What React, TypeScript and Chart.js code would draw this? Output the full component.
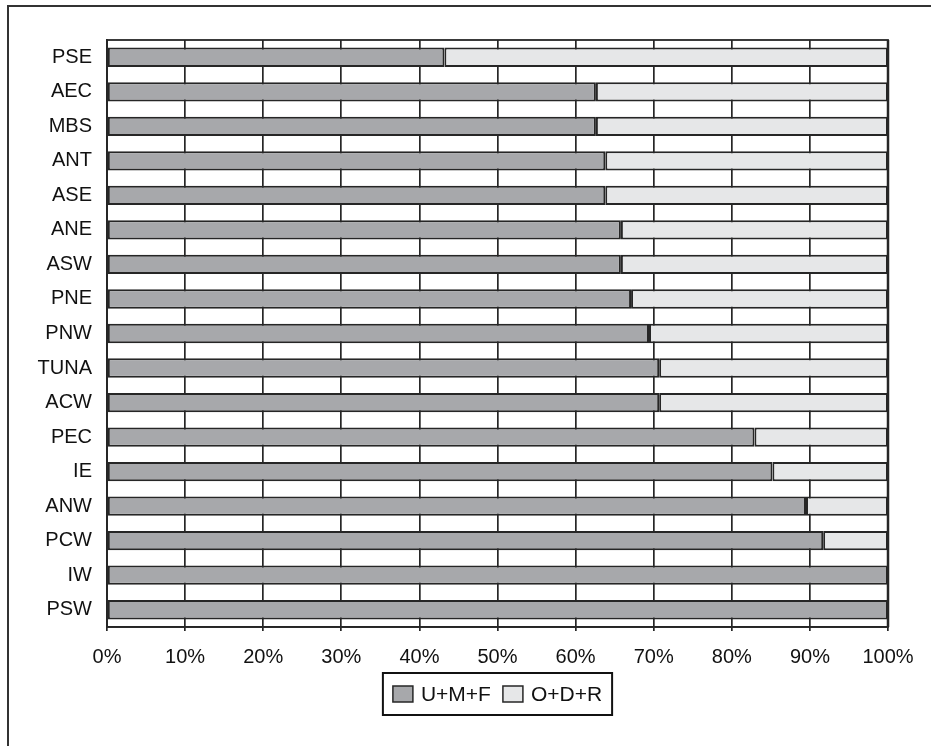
import React, { useEffect, useRef } from "react";
import { Chart, registerables } from "chart.js";

Chart.register(...registerables);

const categories = ["PSE", "AEC", "MBS", "ANT", "ASE", "ANE", "ASW", "PNE", "PNW", "TUNA", "ACW", "PEC", "IE", "ANW", "PCW", "IW", "PSW"];
const umfValues = [43.2, 62.6, 62.6, 63.8, 63.8, 65.8, 65.8, 67.1, 69.4, 70.7, 70.7, 82.9, 85.2, 89.5, 91.7, 100, 100];
const odrValues = [56.8, 37.4, 37.4, 36.2, 36.2, 34.2, 34.2, 32.9, 30.6, 29.3, 29.3, 17.1, 14.8, 10.5, 8.3, 0, 0];
const seriesLabels = ["U+M+F", "O+D+R"];
const seriesColors = ["#a7a8ab", "#e6e7e8"];
const xTicks = [0, 10, 20, 30, 40, 50, 60, 70, 80, 90, 100];

const FONT = "'Liberation Sans', Arial, sans-serif";
const LINE = "#262626";

const framePlugin = {
  id: "frameAndLegend",
  beforeDraw(chart: any) {
    const ctx = chart.ctx;
    ctx.save();
    ctx.fillStyle = "#ffffff";
    ctx.fillRect(0, 0, chart.width, chart.height);
    ctx.strokeStyle = "#333333";
    ctx.lineWidth = 2;
    ctx.beginPath();
    ctx.moveTo(chart.width, 6);
    ctx.lineTo(8, 6);
    ctx.lineTo(8, chart.height);
    ctx.stroke();
    ctx.restore();
  },
  afterDraw(chart: any) {
    const ctx = chart.ctx;
    const area = chart.chartArea;
    ctx.save();
    // plot border
    ctx.strokeStyle = LINE;
    ctx.lineWidth = 1.8;
    ctx.strokeRect(area.left, area.top, area.right - area.left, area.bottom - area.top);
    ctx.lineWidth = 2.5;
    ctx.beginPath();
    ctx.moveTo(area.right, area.top);
    ctx.lineTo(area.right, area.bottom);
    ctx.stroke();

    // legend
    ctx.font = `21px ${FONT}`;
    const ds = chart.data.datasets;
    const sw = 20, sh = 16, padX = 10, gapText = 8, gapItem = 12;
    let total = padX * 2;
    const widths = ds.map((d: any) => ctx.measureText(d.label).width);
    widths.forEach((w: number, i: number) => {
      total += sw + gapText + w + (i < ds.length - 1 ? gapItem : 0);
    });
    const boxH = 42;
    const cx = (area.left + area.right) / 2;
    const left = cx - total / 2;
    const top = area.bottom + 46;
    ctx.fillStyle = "#ffffff";
    ctx.fillRect(left, top, total, boxH);
    ctx.strokeStyle = "#111111";
    ctx.lineWidth = 2;
    ctx.strokeRect(left, top, total, boxH);
    let x = left + padX;
    const cy = top + boxH / 2;
    ds.forEach((d: any, i: number) => {
      ctx.fillStyle = d.backgroundColor;
      ctx.fillRect(x, cy - sh / 2, sw, sh);
      ctx.strokeStyle = LINE;
      ctx.lineWidth = 1.5;
      ctx.strokeRect(x, cy - sh / 2, sw, sh);
      x += sw + gapText;
      ctx.fillStyle = "#111111";
      ctx.textBaseline = "middle";
      ctx.textAlign = "left";
      ctx.fillText(d.label, x, cy + 1);
      x += widths[i] + gapItem;
    });
    ctx.restore();
  },
};

export default function App() {
  const ref = useRef<HTMLCanvasElement | null>(null);
  useEffect(() => {
    if (!ref.current) return;
    const chart = new Chart(ref.current, {
      type: "bar",
      data: {
        labels: categories,
        datasets: [
          {
            label: seriesLabels[0],
            data: umfValues,
            backgroundColor: seriesColors[0],
            borderColor: LINE,
            borderWidth: 2,
            borderSkipped: false,
          },
          {
            label: seriesLabels[1],
            data: odrValues,
            backgroundColor: seriesColors[1],
            borderColor: LINE,
            borderWidth: 2,
            borderSkipped: false,
          },
        ],
      },
      options: {
        indexAxis: "y",
        animation: false,
        responsive: false,
        maintainAspectRatio: false,
        devicePixelRatio: 1,
        layout: { padding: { left: 0, right: 43, top: 40, bottom: 79 } },
        plugins: {
          legend: { display: false },
          tooltip: { enabled: false },
          title: { display: false },
        },
        datasets: { bar: { barPercentage: 1, categoryPercentage: 0.56 } },
        scales: {
          x: {
            type: "linear",
            stacked: true,
            min: 0,
            max: 100,
            afterFit: (s: any) => {
              s.height = 40;
            },
            afterBuildTicks: (s: any) => {
              s.ticks = xTicks.map((v) => ({ value: v }));
            },
            ticks: {
              stepSize: 10,
              padding: 14,
              color: "#111111",
              font: { family: FONT, size: 20 },
              callback: (v: any) => `${v}%`,
              maxRotation: 0,
            },
            grid: {
              color: LINE,
              lineWidth: 1.7,
              tickLength: 4,
              drawTicks: true,
            },
            border: { display: true, color: LINE, width: 1.8 },
          },
          y: {
            type: "category",
            stacked: true,
            afterFit: (s: any) => {
              s.width = 107;
            },
            ticks: {
              padding: 15,
              color: "#111111",
              font: { family: FONT, size: 20 },
            },
            grid: { display: false, drawTicks: false },
            border: { display: true, color: LINE, width: 1.8 },
          },
        },
      },
      plugins: [framePlugin],
    } as any);
    return () => chart.destroy();
  }, []);
  return (
    <div style={{ position: "fixed", left: 0, top: 0, width: 931, height: 746 }}>
      <canvas ref={ref} width={931} height={746} style={{ width: 931, height: 746, display: "block" }} />
    </div>
  );
}
